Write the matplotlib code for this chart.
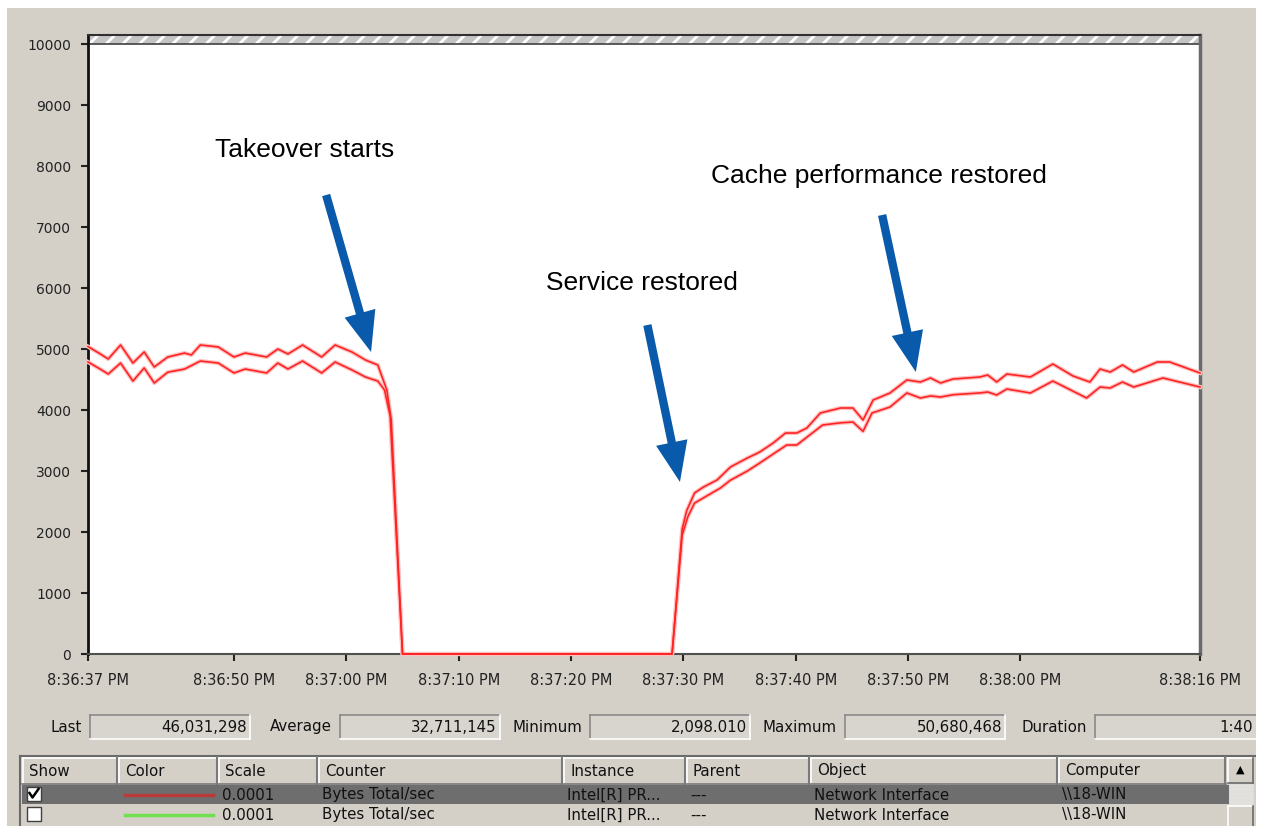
import matplotlib
matplotlib.use('Agg')
import matplotlib.pyplot as plt
from matplotlib.patches import Rectangle
from matplotlib.lines import Line2D
from matplotlib.transforms import Affine2D

# ---------------- data (seconds since 8:36:37 PM, scaled Bytes Total/sec) ----
upper_t = [0, 1.0, 1.8, 2.9, 4.0, 5.0, 5.9, 7.1, 8.6, 9.2, 10.0, 11.6, 13.0, 14.0,
           15.9, 16.9, 17.8, 19.1, 20.8, 22.0, 23.5, 24.7, 25.8, 26.6, 27.0, 28.0,
           52.0, 52.9, 53.3, 54.0, 54.8, 56.0, 57.2, 58.7, 59.8, 61.0, 62.1, 63.1,
           64.0, 65.2, 67.0, 68.1, 69.0, 69.9, 71.4, 72.9, 74.1, 75.0, 75.9, 77.0,
           79.4, 80.1, 80.9, 81.8, 83.9, 85.9, 87.7, 89.2, 90.1, 91.0, 92.1, 93.1,
           95.2, 96.3, 99.0]
upper_v = [5040, 4930, 4836, 5066, 4770, 4951, 4705, 4869, 4934, 4902, 5066, 5033,
           4869, 4934, 4869, 5000, 4918, 5066, 4869, 5066, 4951, 4820, 4738, 4330,
           3836, 0, 0, 2050, 2350, 2640, 2738, 2852, 3066, 3213, 3311, 3459, 3623,
           3623, 3705, 3951, 4033, 4033, 3836, 4164, 4279, 4492, 4459, 4525, 4443,
           4508, 4541, 4574, 4459, 4590, 4541, 4754, 4557, 4459, 4672, 4623, 4738,
           4623, 4787, 4787, 4607]

lower_t = [0, 1.0, 1.8, 2.9, 4.0, 5.0, 5.9, 7.1, 8.6, 10.0, 11.6, 13.0, 14.0, 15.9,
           16.9, 17.8, 19.1, 20.8, 22.0, 23.5, 24.7, 25.8, 26.4, 26.9, 28.0,
           52.0, 52.9, 53.4, 54.0, 56.3, 57.2, 58.7, 59.8, 62.2, 63.1, 65.4, 67.0,
           68.1, 69.0, 69.8, 71.4, 72.9, 74.1, 75.0, 75.9, 77.0, 79.4, 80.1, 80.9,
           81.8, 83.9, 85.9, 88.9, 90.1, 91.0, 92.1, 93.1, 95.7, 99.0]
lower_v = [4787, 4680, 4590, 4770, 4475, 4689, 4443, 4620, 4672, 4803, 4770, 4607,
           4672, 4607, 4770, 4672, 4803, 4607, 4787, 4656, 4541, 4475, 4328, 3900, 0,
           0, 1950, 2250, 2475, 2721, 2850, 3000, 3131, 3426, 3426, 3754, 3790,
           3803, 3650, 3951, 4049, 4279, 4197, 4230, 4213, 4250, 4280, 4295, 4246,
           4344, 4279, 4475, 4197, 4377, 4361, 4459, 4377, 4525, 4377]

tick_pos = [0, 13, 23, 33, 43, 53, 63, 73, 83, 99]
tick_labels = ['8:36:37 PM', '8:36:50 PM', '8:37:00 PM', '8:37:10 PM', '8:37:20 PM',
               '8:37:30 PM', '8:37:40 PM', '8:37:50 PM', '8:38:00 PM', '8:38:16 PM']
y_ticks = list(range(0, 10001, 1000))

stat_names = ['Last', 'Average', 'Minimum', 'Maximum', 'Duration']
stat_values = ['46,031,298', '32,711,145', '2,098.010', '50,680,468', '1:40']

col_names = ['Show', 'Color', 'Scale', 'Counter', 'Instance', 'Parent', 'Object', 'Computer']
row1 = ['', '', '0.0001', 'Bytes Total/sec', 'Intel[R] PR...', '---', 'Network Interface', '\\\\18-WIN']
row2 = ['', '', '0.0001', 'Bytes Total/sec', 'Intel[R] PR...', '---', 'Network Interface', '\\\\18-WIN']

annotations = [
    ('Takeover starts', 215, 150, (21.2, 7525), (25.2, 4951)),
    ('Service restored', 546, 283, (49.8, 5393), (52.7, 2820)),
    ('Cache performance restored', 711, 176, (70.7, 7197), (73.7, 4623)),
]

# ---------------- figure ----------------
W, H = 1261, 826
GRAY = '#d4d0c8'
fig = plt.figure(figsize=(W / 100, H / 100), dpi=100, facecolor=GRAY)
pix = Affine2D().scale(1 / W, -1 / H).translate(0, 1) + fig.transFigure
UI = 'DejaVu Sans'
UIS = 10.8


def rect(x0, y0, x1, y1, fc, ec='none', lw=0, z=1, **kw):
    r = Rectangle((x0, y0), x1 - x0, y1 - y0, transform=pix, facecolor=fc,
                  edgecolor=ec, linewidth=lw, zorder=z, **kw)
    fig.patches.append(r)
    return r


def line(xs, ys, color, lw=1, z=2):
    fig.add_artist(Line2D(xs, ys, transform=pix, color=color, linewidth=lw, zorder=z))


def text(x, y, s, size=UIS, ha='left', color='#111111', family=UI, **kw):
    fig.text(x, y, s, transform=pix, fontsize=size, ha=ha, va='center',
             color=color, family=family, **kw)


# ---------------- chart ----------------
ax = fig.add_axes([88 / W, 1 - 654 / H, (1200 - 88) / W, (654 - 35) / H])
ax.set_facecolor('white')
ax.set_xlim(0, 99)
ax.set_ylim(0, 10148)
plt.rcParams['hatch.linewidth'] = 2.0
ax.axhspan(10000, 10148, facecolor='#c4c4c4', edgecolor='white', hatch='//', lw=0, zorder=1)
ax.axhline(10000, color='#404040', lw=1.2, zorder=2)

for t, v in ((upper_t, upper_v), (lower_t, lower_v)):
    ax.plot(t, v, color='#ffc0c0', lw=3.0, zorder=3, clip_on=False, solid_joinstyle='round')
    ax.plot(t, v, color='#ff2424', lw=1.2, zorder=4, clip_on=False, solid_joinstyle='round')

ax.set_yticks(y_ticks)
ax.set_yticklabels([str(v) for v in y_ticks], fontsize=10, family=UI, color='#222222')
ax.set_xticks(tick_pos)
ax.set_xticklabels(tick_labels, fontsize=10.5, family=UI, color='#222222')
ax.tick_params(axis='both', direction='out', length=5, width=1.5, color='#222222')
ax.tick_params(axis='x', pad=9)
ax.tick_params(axis='y', pad=7)
ax.spines['left'].set_color('#111111')
ax.spines['left'].set_linewidth(2)
ax.spines['bottom'].set_color('#505050')
ax.spines['bottom'].set_linewidth(1.5)
ax.spines['top'].set_color('#303030')
ax.spines['top'].set_linewidth(1.5)
ax.spines['right'].set_color('#6a6a6a')
ax.spines['right'].set_linewidth(2.5)

BLUE = '#0a5aab'
for label, lx, ly, tail, tip in annotations:
    text(lx, ly, label, size=19, family='Liberation Sans', color='black')
    ax.annotate('', xy=tip, xytext=tail, xycoords='data', textcoords='data',
                arrowprops=dict(arrowstyle='simple,head_length=2.9,head_width=2.3,tail_width=0.6',
                                mutation_scale=10, fc=BLUE, ec=BLUE, lw=0,
                                shrinkA=0, shrinkB=0), zorder=6)

# ---------------- stats bar ----------------
label_right = [82, 332, 582, 837, 1087]
box_x = [(90, 250), (340, 500), (590, 750), (845, 1005), (1095, 1262)]
for name, val, lr, (b0, b1) in zip(stat_names, stat_values, label_right, box_x):
    text(lr, 727, name, ha='right')
    rect(b0, 715, b1, 739, '#d8d5ce', z=1)
    line([b0, b0], [715, 739], '#8a8a8a', 1.2)
    line([b0, b1], [715, 715], '#8a8a8a', 1.2)
    line([b0, b1], [739, 739], 'white', 1.2)
    line([b1, b1], [715, 739], 'white', 1.2)
    text(min(b1, 1256) - 3, 727, val, ha='right')

# ---------------- counter table ----------------
col_x = [22, 118, 218, 318, 563, 686, 810, 1058, 1226]
rect(20, 756, 1256, H, GRAY, z=1)
line([20, 20], [756, H], '#6a6a6a', 1.5)
line([20, 1256], [756, 756], '#6a6a6a', 1.5)
for i, name in enumerate(col_names):
    x0, x1 = col_x[i], col_x[i + 1]
    line([x0 + 1, x0 + 1], [758, 783], 'white', 1.2)
    line([x0 + 1, x1 - 1], [758, 758], 'white', 1.2)
    line([x1 - 1, x1 - 1], [757, 784], '#7a7a7a', 1.5)
    text(x0 + 7, 771, name)
line([22, 1226], [784, 784], '#7a7a7a', 1.2)
rect(22, 785, 1229, 804, '#6e6e6e', z=1)
rect(22, 805, 1226, H, '#d4d0c8', z=1)
for row, yc in ((row1, 795), (row2, 815)):
    for i, s in enumerate(row):
        if s:
            text(col_x[i] + 4, yc, s, color='#111111')
rect(27, 787, 41, 801, 'white', ec='#404040', lw=1, z=3)
line([29.5, 32.5, 38.5], [793, 797.5, 789], 'black', 1.8, z=4)
rect(27, 807, 41, 821, 'white', ec='#404040', lw=1, z=3)
line([125, 213], [795, 795], '#b83a3a', 2.5)
line([125, 213], [815, 815], '#70e050', 2.5)
rect(1228, 758, 1253, 783, GRAY, z=2)
line([1228, 1253], [758, 758], 'white', 1.2, z=3)
line([1228, 1228], [758, 783], 'white', 1.2, z=3)
line([1253, 1253], [758, 783], '#6a6a6a', 1.2, z=3)
line([1228, 1253], [783, 783], '#6a6a6a', 1.2, z=3)
text(1240.5, 770, '\u25B2', size=8, ha='center', color='black')
rect(1229, 784, 1253, 805, '#e6e4de', ec='#dddddd', lw=0.5, hatch='....', z=2)
rect(1228, 806, 1253, H + 2, GRAY, z=2)
line([1228, 1253], [806, 806], 'white', 1.2, z=3)
line([1228, 1228], [806, H], 'white', 1.2, z=3)
line([1253, 1253], [806, H], '#6a6a6a', 1.2, z=3)

# white borders of the screenshot (on top)
rect(0, 0, W, 8, 'white', z=20)
rect(0, 0, 7, H, 'white', z=20)
rect(1256, 0, W, H, 'white', z=20)

fig.savefig('out.png', dpi=100, facecolor=fig.get_facecolor())
